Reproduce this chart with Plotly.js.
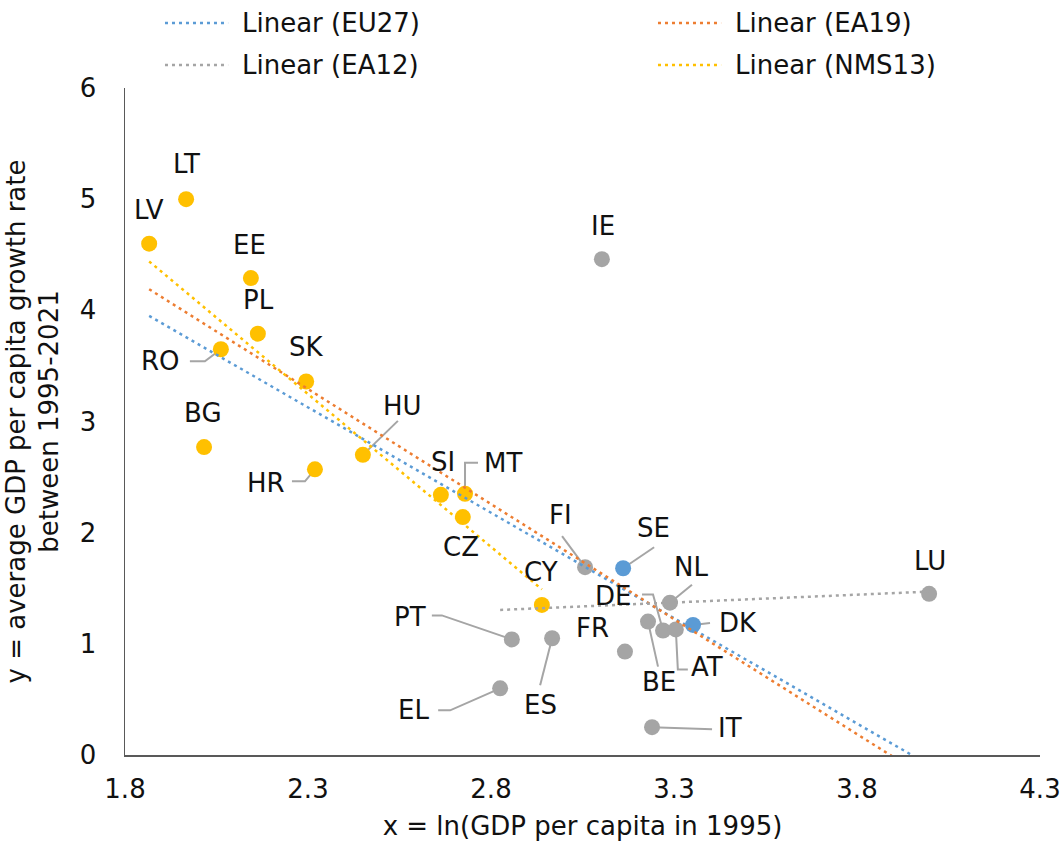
<!DOCTYPE html>
<html><head><meta charset="utf-8">
<script src="https://cdn.plot.ly/plotly-3.0.1.min.js"></script>
<style>html,body{margin:0;padding:0;background:#fff}</style>
</head><body>
<div id="chart" style="width:1060px;height:845px"></div>
<script>
// ---- data ----
const nms13Names = ['LV','LT','EE','PL','RO','SK','BG','HR','HU','SI','MT','CZ','CY'];
const nms13X = [1.866, 1.967, 2.144, 2.163, 2.062, 2.295, 2.016, 2.319, 2.450, 2.663, 2.729, 2.723, 2.939];
const nms13Y = [4.60, 5.00, 4.29, 3.79, 3.65, 3.36, 2.77, 2.57, 2.70, 2.34, 2.35, 2.14, 1.35];

const ea12Names = ['IE','FI','NL','LU','DE','BE','AT','FR','PT','ES','EL','IT'];
const ea12X = [3.103, 3.057, 3.289, 3.997, 3.270, 3.229, 3.305, 3.166, 2.857, 2.967, 2.825, 3.240];
const ea12Y = [4.46, 1.69, 1.37, 1.45, 1.12, 1.20, 1.13, 0.93, 1.04, 1.05, 0.60, 0.25];

const otherNames = ['SE','DK'];
const otherX = [3.161, 3.352];
const otherY = [1.68, 1.17];

const trendEU27X = [1.866, 3.997];
const trendEU27Y = [3.95, -0.09];
const trendEA19X = [1.866, 3.997];
const trendEA19Y = [4.19, -0.22];
const trendEA12X = [2.825, 3.997];
const trendEA12Y = [1.305, 1.47];
const trendNMS13X = [1.866, 2.939];
const trendNMS13Y = [4.44, 1.49];

const legendNames = ['Linear (EU27)', 'Linear (EA19)', 'Linear (EA12)', 'Linear (NMS13)'];

// ---- styling / label placement ----
const C = {gold:'#FFC000', grey:'#A5A5A5', blue:'#5B9BD5', orange:'#ED7D31'};
const FONT = 'DejaVu Sans, Verdana, sans-serif';
const TXT = '#111111';
const FS = 26;

// label offsets in pixels (dx, dy up) relative to point
const labelOffsets = {
  LV:[0,34], LT:[0,35], EE:[-1,33], PL:[1,34], RO:[-60,-12], SK:[0,34], BG:[-1,34],
  HR:[-49,-14], HU:[40,49], SI:[2,33], MT:[38,31], CZ:[-2,-30], CY:[-1,33],
  IE:[1,33], FI:[-25,52], NL:[21,36], LU:[1,33], DE:[-50,34], BE:[11,-60],
  AT:[31,-38], FR:[-32,24], PT:[-102,22], ES:[-12,-67], EL:[-87,-22], IT:[78,-1],
  SE:[30,40], DK:[45,2]
};
// leader polylines in pixels from the point
const leaders = {
  RO:[[-16,-12],[-31,-12]], HR:[[-10,-12],[-23,-12]], HU:[[35,34]], MT:[[0,31],[13,31]],
  FI:[[-23,31]], SE:[[31,21]], NL:[[22,18]], DE:[[-10,36],[-21,36]], BE:[[10,-45]],
  AT:[[2,-40],[12,-40]], DK:[[17,2]], PT:[[-70,24],[-80,24]], ES:[[-12,-47]],
  EL:[[-50,-22],[-62,-22]], IT:[[60,-2]]
};

const markerTrace = (names, xs, ys, color) => ({
  type:'scatter', mode:'markers', x:xs, y:ys, text:names, showlegend:false,
  marker:{size:16, color:color, line:{width:0}}, hoverinfo:'text+x+y'
});
const dotLine = {dash:'3px,4px', width:2.5};
const trendTrace = (xs, ys, color, name) => ({
  type:'scatter', mode:'lines', x:xs, y:ys, name:name, showlegend:false,
  line:Object.assign({color:color}, dotLine), hoverinfo:'skip'
});

const traces = [
  markerTrace(nms13Names, nms13X, nms13Y, C.gold),
  markerTrace(ea12Names, ea12X, ea12Y, C.grey),
  markerTrace(otherNames, otherX, otherY, C.blue),
  trendTrace(trendEU27X, trendEU27Y, C.blue, legendNames[0]),
  trendTrace(trendEA19X, trendEA19Y, C.orange, legendNames[1]),
  trendTrace(trendEA12X, trendEA12Y, C.grey, legendNames[2]),
  trendTrace(trendNMS13X, trendNMS13Y, C.gold, legendNames[3])
];

const annotations = [];
const shapes = [];
function addLabels(names, xs, ys){
  names.forEach((n,i)=>{
    const off = labelOffsets[n] || [0,34];
    annotations.push({x:xs[i], y:ys[i], xref:'x', yref:'y', text:n, showarrow:false,
      xshift:off[0], yshift:off[1], font:{family:FONT, size:FS, color:TXT}});
    if(leaders[n]){
      const p = 'M0,0 ' + leaders[n].map(q=>'L'+q[0]+','+q[1]).join(' ');
      shapes.push({type:'path', xref:'x', yref:'y', xsizemode:'pixel', ysizemode:'pixel',
        xanchor:xs[i], yanchor:ys[i], path:p, layer:'below',
        line:{color:'#A5A5A5', width:2}});
    }
  });
}
addLabels(nms13Names, nms13X, nms13Y);
addLabels(ea12Names, ea12X, ea12Y);
addLabels(otherNames, otherX, otherY);

// custom legend (paper coords)
const legendColors = [C.blue, C.orange, C.grey, C.gold];
const legendPos = [[0.0437,1.0975],[0.5825,1.0975],[0.0437,1.0345],[0.5825,1.0345]];
legendNames.forEach((n,i)=>{
  const [lx, ly] = legendPos[i];
  shapes.push({type:'line', xref:'paper', yref:'paper', x0:lx, x1:lx+0.069, y0:ly, y1:ly,
    line:Object.assign({color:legendColors[i]}, dotLine)});
  annotations.push({xref:'paper', yref:'paper', x:lx+0.082, y:ly, xanchor:'left', yanchor:'middle',
    text:n, showarrow:false, font:{family:FONT, size:FS, color:TXT}});
});

const axisCommon = {
  showline:true, linecolor:'#595959', linewidth:1.5, showgrid:false, zeroline:false,
  ticks:'', tickfont:{family:FONT, size:FS, color:TXT}, fixedrange:true,
  ticklabeloverflow:'allow'
};
const layout = {
  width:1060, height:845,
  margin:{l:125, r:20, t:88, b:90},
  paper_bgcolor:'#fff', plot_bgcolor:'#fff',
  showlegend:false,
  xaxis:Object.assign({}, axisCommon, {range:[1.8,4.3], tick0:1.8, dtick:0.5, tickformat:'.1f',
    ticklabelstandoff:10,
    title:{text:'x = ln(GDP per capita in 1995)', font:{family:FONT, size:FS, color:TXT}, standoff:14}}),
  yaxis:Object.assign({}, axisCommon, {range:[0,6], dtick:1, ticklabelstandoff:22,
    title:{text:'y = average GDP per capita growth rate<br>between 1995-2021', font:{family:FONT, size:FS, color:TXT}, standoff:13}}),
  annotations:annotations,
  shapes:shapes
};
Plotly.newPlot('chart', traces, layout, {displayModeBar:false, staticPlot:true});
</script>
</body></html>
